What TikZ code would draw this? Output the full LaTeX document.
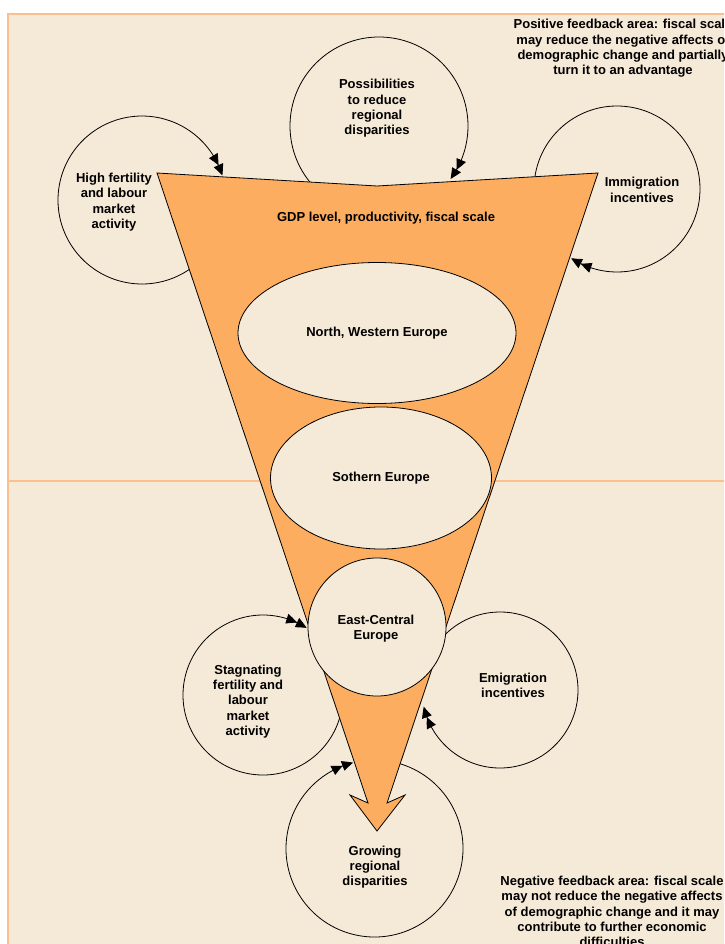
\documentclass[tikz,border=0pt]{standalone}
\usepackage{fontspec}
\setmainfont{Liberation Sans}
\usetikzlibrary{arrows.meta,bending,shapes.geometric}
\definecolor{paper}{HTML}{F5E9D7}
\definecolor{rim}{HTML}{FAC090}
\definecolor{funnel}{HTML}{FCAD60}
\tikzset{
  txt/.style={font=\bfseries\fontsize{13}{15.3}\selectfont, align=center, inner sep=0pt},
  loop/.style={draw, line width=0.8pt, -{Triangle[length=11pt,width=10pt,bend]Triangle[length=11pt,width=10pt,bend]}},
  region/.style={draw, line width=0.8pt, fill=paper}
}
\begin{document}
\begin{tikzpicture}[x=1pt,y=-1pt]
    \useasboundingbox (0,0) rectangle (724,944);
    \clip (0,0) rectangle (724,944);
    \fill[white] (0,0) rectangle (724,944);
    \fill[paper] (8,14) rectangle (730,950);
    \draw[rim, line width=1.2pt] (8,950) -- (8,14) -- (730,14);
    \draw[rim, line width=1.2pt] (8,481) -- (730,481);

    \coordinate (hfc) at (142,200);
    \coordinate (psc) at (379,126);
    \coordinate (imc) at (617,189);
    \coordinate (stc) at (263,695);
    \coordinate (emc) at (500,690);
    \coordinate (grc) at (374.5,848.5);
    \draw[loop] ([shift={(50:84)}]hfc) arc[start angle=50, end angle=343, radius=84];
    \draw[loop] ([shift={(135:89)}]psc) arc[start angle=135, end angle=396.5, radius=89];
    \draw[loop] ([shift={(185:83)}]imc) arc[start angle=185, end angle=483.5, radius=83];
    \draw[loop] ([shift={(10:80)}]stc) arc[start angle=10, end angle=303, radius=80];
    \draw[loop] ([shift={(215:78)}]emc) arc[start angle=215, end angle=527.7, radius=78];
    \draw[loop] ([shift={(282:88.5)}]grc) arc[start angle=282, end angle=616, radius=88.5];

    \draw[fill=funnel, line width=0.8pt, line join=miter] (157,173) -- (377,186) -- (598,173) -- (387,803)
        -- (405,795) -- (377,831) -- (350,795) -- (368,803) -- cycle;
    \node[region, ellipse, minimum width=278pt, minimum height=141pt] (nw) at (377,333) {};
    \node[region, ellipse, minimum width=221pt, minimum height=142pt] (se) at (381,478) {};
    \node[region, circle, minimum size=138pt] (ec) at (377,627) {};

    \node[txt] (gdp) at (386,218) {GDP level, productivity, fiscal scale};
    \node[txt] at (nw) {North, Western Europe};
    \node[txt] at (se) {Sothern Europe};
    \node[txt] (ect) at (376,628.5) {East-Central\\Europe};
    \node[txt] (hf) at (114,202) {High fertility\\and labour\\market\\activity};
    \node[txt] (ps) at (377,108.5) {Possibilities\\to reduce\\regional\\disparities};
    \node[txt] (im) at (642,190) {Immigration\\incentives};
    \node[txt] (st) at (248,701.5) {Stagnating\\fertility and\\labour\\market\\activity};
    \node[txt] (em) at (513,685) {Emigration\\incentives};
    \node[txt] (gr) at (375,867) {Growing\\regional\\disparities};
    \node[txt] (pos) at (623,48.5) {Positive feedback area: fiscal scale\\may reduce the negative affects of\\demographic change and partially\\turn it to an advantage};
    \node[txt] (neg) at (612,911.5) {Negative feedback area: fiscal scale\\may not reduce the negative affects\\of demographic change and it may\\contribute to further economic\\difficulties};
\end{tikzpicture}
\end{document}
